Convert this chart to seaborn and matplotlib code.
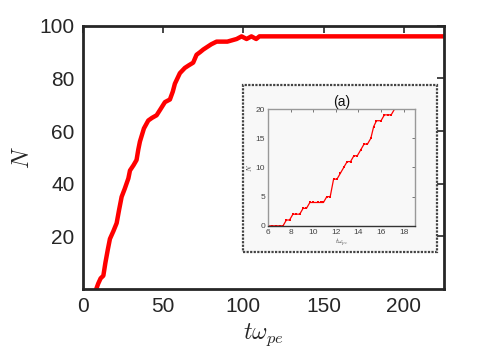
import numpy as np
import pandas as pd
import matplotlib
matplotlib.use("Agg")
import matplotlib.pyplot as plt
import seaborn as sns
from matplotlib.patches import Rectangle

# main curve: cumulative count N vs t*omega_pe
t_main = [8.3, 9.5, 11.0, 12.7, 14.0, 15.5, 16.8, 19.0, 21.0, 22.5, 24.1, 26.0,
          28.3, 29.3, 31.5, 33.4, 34.5, 35.5, 38.0, 40.7, 43.0, 45.9, 48.0,
          51.1, 54.2, 56.0, 57.3, 60.4, 63.5, 66.0, 68.7, 70.8, 73.0, 75.0,
          80.0, 83.3, 90.0, 95.8, 98.9, 102.0, 105.0, 108.0, 110.0, 150.0, 225.0]
n_main = [0, 2, 4, 5, 10, 15, 19, 22, 25, 30, 35, 38,
          42, 45, 47, 49, 53, 56, 61, 64, 65, 66, 68,
          71, 72, 75, 78, 82, 84, 85, 86, 89, 90, 91,
          93, 94, 94, 95, 96, 95, 96, 95, 96, 96, 96]

# inset (a): early times
t_inset = [6.0, 6.38, 6.74, 7.09, 7.32, 7.62, 7.9, 8.2, 8.5, 8.8, 9.1, 9.4,
           9.7, 10.0, 10.4, 10.7, 10.9, 11.2, 11.5, 11.8, 12.1, 12.4, 12.7,
           13.0, 13.3, 13.6, 13.9, 14.2, 14.5, 14.8, 15.1, 15.35, 15.6, 16.0,
           16.3, 16.6, 16.9, 17.2, 17.5]
n_inset = [0, 0, 0, 0, 0, 1, 1, 2, 2, 2, 3, 3,
           4, 4, 4, 4, 4, 5, 5, 8, 8, 9, 10,
           11, 11, 12, 12, 13, 14, 14, 15, 17, 18, 18,
           19, 19, 19, 20, 20]

df_main = pd.DataFrame({"t": t_main, "N": n_main})
df_inset = pd.DataFrame({"t": t_inset, "N": n_inset})

sns.set_theme(style="white")
plt.rcParams["font.family"] = ["Liberation Sans", "DejaVu Sans"]
plt.rcParams["mathtext.fontset"] = "cm"

fig = plt.figure(figsize=(4.91, 3.54), dpi=100)
ax = fig.add_axes([0.169, 0.184, 0.735, 0.743])
sns.lineplot(data=df_main, x="t", y="N", ax=ax, color="#ff0000", lw=3.2,
             estimator=None, sort=False)
ax.set_xlim(0, 225)
ax.set_ylim(0, 100)
ax.set_xticks([0, 50, 100, 150, 200])
ax.set_yticks([20, 40, 60, 80, 100])
ax.tick_params(direction="in", length=5, width=1.2, labelsize=15, colors="#262626",
               top=True, right=True, pad=6)
for s in ax.spines.values():
    s.set_linewidth(2)
    s.set_color("#262626")
ax.set_xlabel(r"$t\omega_{pe}$", fontsize=17, color="#262626")
ax.set_ylabel(r"$N$", fontsize=17, color="#262626")

# inset frame
frame = Rectangle((0.495, 0.288), 0.395, 0.472, transform=fig.transFigure,
                  facecolor="#f8f8f8", edgecolor="#444444", lw=1.6, ls=(0, (1, 0.6)),
                  zorder=2)
fig.patches.append(frame)

axin = fig.add_axes([0.546, 0.362, 0.299, 0.330])
axin.set_zorder(3)
axin.set_facecolor("#f8f8f8")
sns.lineplot(data=df_inset, x="t", y="N", ax=axin, color="#ff0000", lw=0.9,
             marker="s", markersize=1.5, markeredgewidth=0, estimator=None, sort=False)
axin.set_xlim(6, 19)
axin.set_ylim(0, 20)
axin.set_xticks([6, 8, 10, 12, 14, 16, 18])
axin.set_yticks([0, 5, 10, 15, 20])
axin.tick_params(direction="in", length=2, width=0.5, labelsize=6, colors="#444444",
                 top=True, right=True, pad=2)
for s in axin.spines.values():
    s.set_linewidth(1)
    s.set_color("#999999")
axin.spines["bottom"].set_color("#333333")
axin.set_xlabel(r"$t\omega_{pe}$", fontsize=5, color="#444444", labelpad=1)
axin.set_ylabel(r"$N$", fontsize=5, color="#444444", labelpad=1)
axin.set_title("(a)", fontsize=10, color="#111111", pad=2)

fig.savefig("out.png", dpi=100)
